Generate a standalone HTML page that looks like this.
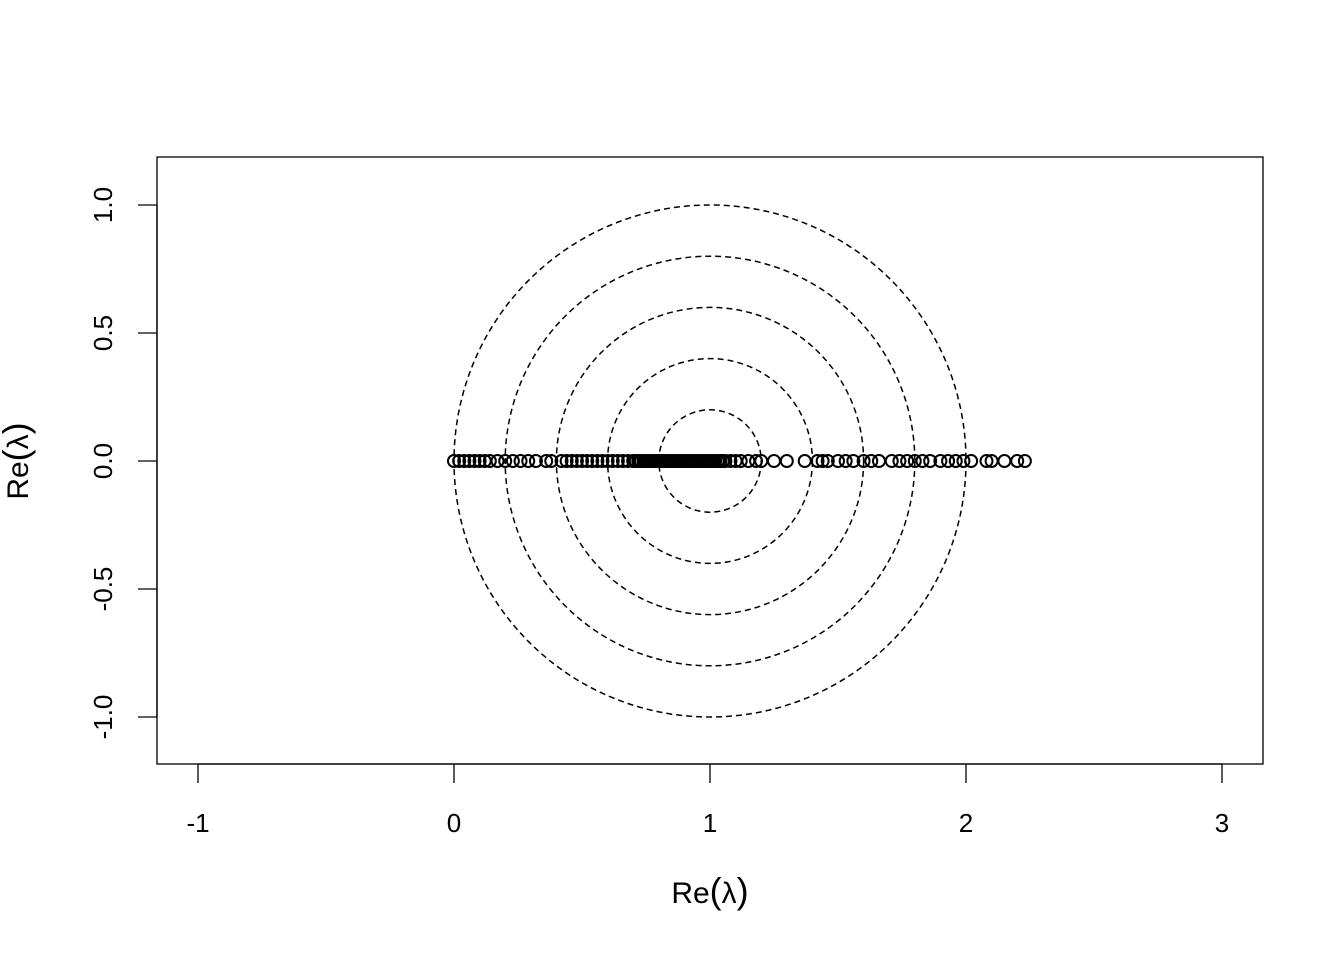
<!DOCTYPE html>
<html><head><meta charset="utf-8"><style>
html,body{margin:0;padding:0;background:#fff;}
svg{display:block;font-family:"Liberation Sans",sans-serif;}
</style></head><body>
<svg id="chart" width="1344" height="960">
<rect x="157" y="157" width="1106" height="607" fill="none" stroke="#000" stroke-width="1.3"/>
<g id="circles"></g>
<g id="points"></g>
<g id="xaxis"></g>
<g id="yaxis"></g>
<text x="710" y="903" font-size="30" text-anchor="middle">Re<tspan font-size="36">(</tspan>λ<tspan font-size="36">)</tspan></text>
<text transform="translate(28,461) rotate(-90)" font-size="30" text-anchor="middle">Re<tspan font-size="36">(</tspan>λ<tspan font-size="36">)</tspan></text>
</svg>
<script>
const reVals = [0.0,0.02,0.04,0.06,0.08,0.1,0.12,0.14,0.17,0.2,0.23,0.26,0.29,0.32,0.36,0.38,0.42,0.44,0.46,0.48,0.5,0.52,0.54,0.56,0.58,0.6,0.62,0.64,0.66,0.68,0.7,0.71,0.72,0.73,0.74,0.75,0.76,0.77,0.78,0.79,0.8,0.81,0.82,0.83,0.84,0.85,0.86,0.87,0.88,0.89,0.9,0.91,0.92,0.93,0.94,0.95,0.96,0.97,0.98,0.99,1.0,1.01,1.02,1.03,1.04,1.05,1.06,1.08,1.1,1.12,1.15,1.18,1.2,1.25,1.3,1.37,1.42,1.44,1.46,1.5,1.53,1.56,1.6,1.63,1.66,1.71,1.74,1.77,1.8,1.83,1.86,1.9,1.93,1.96,1.99,2.02,2.08,2.1,2.15,2.2,2.23];
const imVals = reVals.map(()=>0);
const radii = [0.2,0.4,0.6,0.8,1.0];
const xTicks = [-1,0,1,2,3];
const yTicks = [-1.0,-0.5,0.0,0.5,1.0];
const yTickLabels = ["-1.0","-0.5","0.0","0.5","1.0"];
const X = v => 454 + v*256;
const Y = v => 461 - v*256;
const NS = "http://www.w3.org/2000/svg";
function mk(tag, attrs, parent){const e=document.createElementNS(NS,tag);for(const k in attrs)e.setAttribute(k,attrs[k]);parent.appendChild(e);return e;}
const cg=document.getElementById('circles');
radii.forEach(r=>{
  const c=mk('circle',{cx:X(1),cy:Y(0),r:r*256,fill:'none',stroke:'#000','stroke-width':1.5,'stroke-dasharray':'6,4'},cg);
  
  
});
const pg=document.getElementById('points');
reVals.forEach((v,i)=>{
  const c=mk('circle',{cx:X(v),cy:Y(imVals[i]),r:6,fill:'none',stroke:'#000','stroke-width':2},pg);
  
  
});
const xg=document.getElementById('xaxis');
mk('line',{x1:X(-1),x2:X(3),y1:764,y2:764,stroke:'#000','stroke-width':1.3},xg);
xTicks.forEach(t=>{
  mk('line',{x1:X(t),x2:X(t),y1:764,y2:783,stroke:'#000','stroke-width':1.3},xg);
  const tx=mk('text',{x:X(t),y:832,'font-size':26,'text-anchor':'middle'},xg);
  tx.textContent=String(t);
  
  
});
const yg=document.getElementById('yaxis');
mk('line',{x1:157,x2:157,y1:Y(-1),y2:Y(1),stroke:'#000','stroke-width':1.3},yg);
yTicks.forEach((t,i)=>{
  mk('line',{x1:138,x2:157,y1:Y(t),y2:Y(t),stroke:'#000','stroke-width':1.3},yg);
  const tx=mk('text',{transform:`translate(112,${Y(t)}) rotate(-90)`,'font-size':26,'text-anchor':'middle'},yg);
  tx.textContent=yTickLabels[i];
  
  
});
</script>
</body></html>
